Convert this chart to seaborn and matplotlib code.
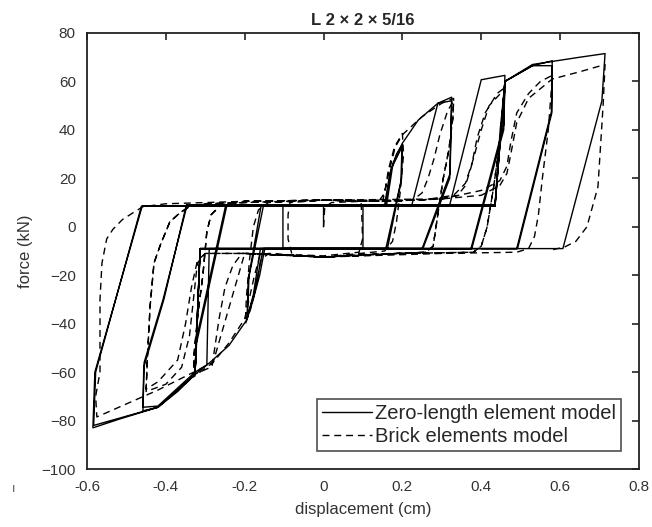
import numpy as np
import pandas as pd
import matplotlib
matplotlib.use("Agg")
import matplotlib.pyplot as plt
import seaborn as sns

title = "L 2 × 2 × 5/16"
x_label = "displacement (cm)"
y_label = "force (kN)"
series_names = ["Zero-length element model", "Brick elements model"]
x_ticks = [-0.6, -0.4, -0.2, 0, 0.2, 0.4, 0.6, 0.8]
x_tick_labels = ["-0.6", "-0.4", "-0.2", "0", "0.2", "0.4", "0.6", "0.8"]
y_ticks = [-100, -80, -60, -40, -20, 0, 20, 40, 60, 80]

# Zero-length element model (solid) – displacement (cm), force (kN)
zero_x = [0, 0, 0.10, 0.10, -0.103, -0.103, 0.155, 0.168, 0.185, 0.200, 0.198, 0.158,
          -0.149, -0.162, -0.180, -0.194, -0.191, -0.152, 0.157, 0.172, 0.199, 0.196, 0.162,
          -0.153, -0.176, -0.193, -0.189, -0.158,
          0.160, 0.176, 0.200, 0.240, 0.290, 0.325, 0.321, 0.250,
          -0.160, -0.178, -0.195, -0.240, -0.288, -0.326, -0.322, -0.245,
          0.224, 0.290, 0.325, 0.320, 0.252,
          -0.290, -0.296, -0.326, -0.322, -0.248,
          0.320, 0.400, 0.460, 0.457, 0.374,
          -0.313, -0.326, -0.370, -0.420, -0.458, -0.455, -0.407, -0.346,
          0.435, 0.448, 0.460, 0.457, 0.376,
          -0.313, -0.326, -0.420, -0.458, -0.456, -0.405, -0.348,
          0.435, 0.460, 0.530, 0.580, 0.578, 0.490,
          -0.313, -0.326, -0.420, -0.520, -0.585, -0.580, -0.460,
          0.435, 0.460, 0.530, 0.580, 0.579, 0.492,
          -0.313, -0.326, -0.420, -0.583, -0.578, -0.462,
          0.435, 0.460, 0.530, 0.650, 0.714, 0.706, 0.607, 0.40]
zero_y = [0, 9, 9, -9, -9, 9, 9, 22, 30, 34, 20, -9,
          -9, -20, -31, -38, -22, 9, 9, 24, 33, 18, -9,
          -9, -28, -37, -20, 9,
          9, 26, 34.5, 44, 51, 53.5, 22, -9,
          -9, -28, -38.5, -49, -56, -61, -48, 9,
          9, 51, 52, 20, -9,
          -9, -57, -60, -46, 9,
          9, 60.7, 62.5, 42, -9,
          -9, -61, -68, -74.5, -76, -56, -30, 9,
          9, 40, 59.5, 40, -9,
          -9, -60, -74, -74.5, -58, -30, 9,
          9, 60, 66.5, 68.5, 47.5, -9,
          -9, -61, -74.5, -79.5, -83, -60, 8.5,
          8.5, 60, 66.5, 66.5, 47, -9,
          -9, -61, -74.5, -82, -60, 8.5,
          8.5, 60, 67, 70, 71.5, 52, -9, -9]

# Brick elements model (dashed)
brick_x = [0, 0.003, 0.02, 0.095, 0.097, 0.099, 0.09, 0.0, -0.08, -0.09, -0.09, -0.085,
           0.0, 0.14, 0.155, 0.165, 0.180, 0.200, 0.203, 0.195, 0.185, 0.175, 0.155,
           0.0, -0.14, -0.16, -0.17, -0.185, -0.198, -0.196, -0.188, -0.178, -0.165, -0.14,
           0.0, 0.15, 0.165, 0.182, 0.20, 0.25, 0.30, 0.33,
           0.328, 0.318, 0.303, 0.29, 0.278, 0.26,
           0.10, 0.0, -0.16, -0.175, -0.20, -0.24, -0.28, -0.33,
           -0.328, -0.318, -0.306, -0.296, -0.285, -0.26,
           -0.20, 0.0, 0.20, 0.23, 0.25, 0.265, 0.28, 0.295, 0.315, 0.33,
           0.328, 0.318, 0.303, 0.29, 0.278, 0.26,
           0.10, 0.0, -0.19, -0.207, -0.23, -0.25, -0.265, -0.283, -0.33,
           -0.328, -0.318, -0.306, -0.296, -0.285, -0.26,
           -0.20, 0.0, 0.25, 0.33, 0.36, 0.38, 0.40, 0.42, 0.46,
           0.457, 0.445, 0.43, 0.415, 0.40, 0.38,
           0.20, 0.0, -0.20, -0.30, -0.32, -0.33, -0.34, -0.36, -0.40, -0.45,
           -0.447, -0.44, -0.43, -0.415, -0.39, -0.364, -0.34, -0.30,
           0.0, 0.30, 0.34, 0.36, 0.375, 0.39, 0.41, 0.44, 0.46,
           0.457, 0.445, 0.43, 0.415, 0.40, 0.38,
           0.20, 0.0, -0.20, -0.30, -0.32, -0.335, -0.35, -0.37, -0.42, -0.45,
           -0.447, -0.44, -0.43, -0.415, -0.39, -0.364, -0.34, -0.30,
           0.0, 0.15, 0.30, 0.40, 0.447, 0.465, 0.475, 0.49, 0.52, 0.55, 0.58,
           0.577, 0.57, 0.555, 0.545, 0.535, 0.52, 0.49,
           0.30, 0.0, -0.20, -0.28, -0.42, -0.575,
           -0.578, -0.567, -0.567, -0.562, -0.55, -0.534, -0.51, -0.483, -0.458, -0.40,
           -0.20, 0.0, 0.15, 0.30, 0.40, 0.447, 0.465, 0.475, 0.49, 0.52, 0.58, 0.65, 0.714,
           0.712, 0.709, 0.696, 0.668, 0.64, 0.612, 0.58]
brick_y = [0, 8, 10, 10.5, 5, -5, -10.5, -12, -11.5, -5, 5, 10,
           11, 10.5, 14, 24, 33, 38.5, 30, 15, 2, -6, -10,
           -12.5, -11, -14, -24, -34, -40, -30, -14, 0, 7, 10,
           11, 10.5, 22, 33, 38, 45.5, 51, 53,
           45, 32, 19.4, 5, -8, -10.5,
           -11.5, -12.5, -11, -20, -38, -48, -56, -62,
           -52, -35, -20, -2, 5, 9,
           10.5, 11, 10.5, 11.5, 14, 20, 28, 38, 48, 52,
           45, 32, 19.4, 5, -8, -10.5,
           -11.5, -12.5, -11, -11, -16, -25, -38, -57.8, -61,
           -52, -35, -20, -2, 5, 9,
           10.5, 11, 11, 13, 18, 28, 40, 50, 57,
           48, 32, 15, 0, -8, -10.5,
           -11, -12.5, -11, -11, -15, -30, -45, -58, -65, -68,
           -55, -33, -15, -8, 2, 5.8, 8.3, 9.5,
           11, 11.5, 13, 17, 25, 37, 47, 55, 57.5,
           48, 32, 15, 0, -8, -10.5,
           -11, -12.5, -11, -11, -14, -25, -40, -55, -64, -67,
           -55, -33, -15, -8, 2, 5.8, 8.3, 9.5,
           11, 10.5, 11.5, 15, 19, 25, 35, 47, 55, 60, 62.5,
           55, 40, 20, 5, -4, -9, -10.5,
           -11, -12.5, -11, -56, -67.4, -78.5,
           -70, -60, -30, -15, -5, -1, 3, 5.8, 8.3, 9.5,
           10.5, 11, 10.5, 11.5, 13, 17, 22, 30, 43, 53, 61, 64, 67,
           60, 50, 16.5, 0, -6, -8.3, -9.5]

sns.set_theme(style="white")
plt.rcParams["font.family"] = ["Liberation Sans", "DejaVu Sans"]

fig = plt.figure(figsize=(6.52, 5.27), dpi=100)
ax = fig.add_axes([0.1334, 0.110, 0.8466, 0.8274])

sns.lineplot(x=zero_x, y=zero_y, sort=False, estimator=None, ax=ax, color="black",
             linewidth=1.0, label=series_names[0])
sns.lineplot(x=brick_x, y=brick_y, sort=False, estimator=None, ax=ax, color="black",
             linewidth=1.0, linestyle=(0, (5, 3.5)), label=series_names[1])

ax.set_xlim(-0.6, 0.8)
ax.set_ylim(-100, 80)
ax.set_xticks(x_ticks)
ax.set_xticklabels(x_tick_labels)
ax.set_yticks(y_ticks)
ax.tick_params(direction="in", length=5, width=1.2, top=True, right=True,
               labelsize=11, colors="#222222", labelcolor="#333333", pad=8)
for s in ax.spines.values():
    s.set_color("#222222")
    s.set_linewidth(1.3)
ax.set_xlabel(x_label, fontsize=12, color="#333333", labelpad=6)
ax.set_ylabel(y_label, fontsize=12, color="#333333", labelpad=6)
ax.set_title(title, fontsize=12, fontweight="bold", pad=6)

leg = ax.legend(loc="lower right", fontsize=14.5, frameon=True, fancybox=False,
                edgecolor="#222222", handlelength=2.5, handletextpad=0.12,
                borderpad=0.25, labelspacing=0.2, borderaxespad=0.9)
leg.get_frame().set_linewidth(1.2)

fig.text(14 / 652, 1 - 489 / 527, "ı", fontsize=9, color="#555555", ha="center", va="center")

fig.savefig("out.png", dpi=100)
